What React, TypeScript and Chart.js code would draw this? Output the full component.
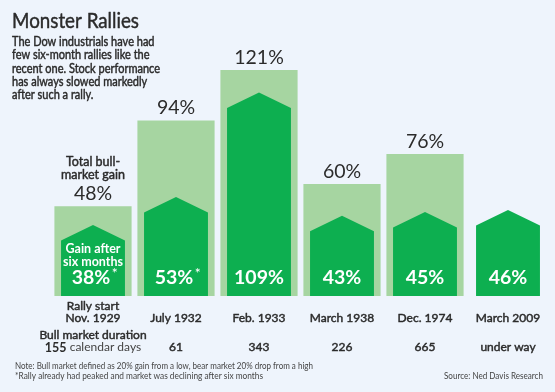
import { useEffect, useRef } from "react";
import { Chart, registerables } from "chart.js";

Chart.register(...registerables);

const rallyStarts = ["Nov. 1929", "July 1932", "Feb. 1933", "March 1938", "Dec. 1974", "March 2009"];
const totalGain: (number | null)[] = [48, 94, 121, 60, 76, null];
const sixMonthGain = [38, 53, 109, 43, 45, 46];
const durations = ["155", "61", "343", "226", "665", "under way"];
const peakedEarly = [true, true, false, false, false, false];

const titleText = "Monster Rallies";
const subtitleLines = [
  "The Dow industrials have had",
  "few six-month rallies like the",
  "recent one. Stock performance",
  "has always slowed markedly",
  "after such a rally.",
];
const noteLines = [
  "Note: Bull market defined as 20% gain from a low, bear market 20% drop from a high",
  "*Rally already had peaked and market was declining after six months",
];
const sourceText = "Source: Ned Davis Research";

const BG = "#eef4fc";
const LIGHT = "#a6d5a1";
const DARK = "#0daf50";
const TEXT = "#2b2b2b";
const FONT = "Lato, 'Open Sans', sans-serif";

// medium-weight text: fill plus a hairline stroke of the same colour
function medium(ctx: CanvasRenderingContext2D, s: string, x: number, y: number, maxW?: number) {
  ctx.save();
  ctx.strokeStyle = ctx.fillStyle as string;
  ctx.lineWidth = 0.45;
  ctx.lineJoin = "round";
  if (maxW !== undefined) {
    ctx.fillText(s, x, y, maxW);
    ctx.strokeText(s, x, y, maxW);
  } else {
    ctx.fillText(s, x, y);
    ctx.strokeText(s, x, y);
  }
  ctx.restore();
}

const overlay = {
  id: "overlay",
  beforeDraw(chart: any) {
    const ctx = chart.ctx;
    ctx.save();
    ctx.fillStyle = BG;
    ctx.fillRect(0, 0, chart.width, chart.height);
    ctx.restore();
  },
  afterDatasetsDraw(chart: any) {
    const ctx: CanvasRenderingContext2D = chart.ctx;
    const lightMeta = chart.getDatasetMeta(0);
    const darkMeta = chart.getDatasetMeta(1);
    const xs = chart.scales.x;
    ctx.save();

    // pentagon bars
    darkMeta.data.forEach((bar: any) => {
      const { x, y, base, width } = bar.getProps(["x", "y", "base", "width"], true);
      const l = x - width / 2;
      const r = x + width / 2;
      const sh = y + 15.5;
      ctx.beginPath();
      ctx.moveTo(l, base);
      ctx.lineTo(l, sh);
      ctx.lineTo(x, y);
      ctx.lineTo(r, sh);
      ctx.lineTo(r, base);
      ctx.closePath();
      ctx.fillStyle = DARK;
      ctx.fill();
    });

    ctx.textAlign = "center";
    ctx.textBaseline = "middle";

    // light bar labels
    lightMeta.data.forEach((bar: any, i: number) => {
      const v = totalGain[i];
      if (v == null) return;
      const { x, y } = bar.getProps(["x", "y"], true);
      ctx.fillStyle = TEXT;
      ctx.font = `400 19.5px ${FONT}`;
      ctx.fillText(`${v}%`, x, y - 12.5);
      if (i === 0) {
        ctx.font = `400 12.5px ${FONT}`;
        medium(ctx, "Total bull-", x, y - 44);
        medium(ctx, "market gain", x, y - 31);
      }
    });

    // dark bar labels
    darkMeta.data.forEach((bar: any, i: number) => {
      const { x, base } = bar.getProps(["x", "base"], true);
      const label = `${sixMonthGain[i]}%`;
      ctx.font = `700 19.5px ${FONT}`;
      ctx.fillStyle = "#ffffff";
      const w = ctx.measureText(label).width;
      const cx = peakedEarly[i] ? x - 2 : x;
      ctx.textAlign = "center";
      ctx.fillText(label, cx, base - 18.5);
      if (peakedEarly[i]) {
        ctx.font = `400 14px ${FONT}`;
        ctx.textAlign = "left";
        ctx.fillText("*", cx + w / 2 + 1.5, base - 23);
        ctx.textAlign = "center";
      }
      if (i === 0) {
        ctx.font = `700 12.5px ${FONT}`;
        ctx.fillText("Gain after", x, base - 47.5);
        ctx.fillText("six months", x, base - 34.5);
      }
    });

    // category labels below
    rallyStarts.forEach((lab, i) => {
      const x = xs.getPixelForValue(i);
      ctx.fillStyle = TEXT;
      ctx.textAlign = "center";
      ctx.font = `400 12px ${FONT}`;
      if (i === 0) medium(ctx, "Rally start", x, 306);
      medium(ctx, lab, x, 318.5);
      if (i === 0) {
        medium(ctx, "Bull market duration", x, 335);
        ctx.font = `700 12.5px ${FONT}`;
        const a = durations[i];
        const b = " calendar days";
        const wa = ctx.measureText(a).width;
        ctx.font = `400 12px ${FONT}`;
        const wb = ctx.measureText(b).width;
        const start = x - (wa + wb) / 2;
        ctx.textAlign = "left";
        ctx.font = `700 12.5px ${FONT}`;
        ctx.fillText(a, start, 347.5);
        ctx.font = `400 12px ${FONT}`;
        ctx.fillStyle = "#444";
        ctx.fillText(b, start + wa, 347.5);
        ctx.textAlign = "center";
      } else {
        ctx.font = `400 12px ${FONT}`;
        medium(ctx, durations[i], x, 347.5);
      }
    });

    // title and subtitle
    ctx.textAlign = "left";
    ctx.textBaseline = "alphabetic";
    ctx.fillStyle = TEXT;
    ctx.font = `400 22px ${FONT}`;
    medium(ctx, titleText, 12, 27.5, 127);
    ctx.font = `400 12.5px ${FONT}`;
    subtitleLines.forEach((ln, k) => {
      const w = ctx.measureText(ln).width;
      medium(ctx, ln, 12, 46 + k * 13.3, w * 0.88);
    });

    // notes
    ctx.font = `400 10px ${FONT}`;
    ctx.fillStyle = "#444";
    ctx.fillText(noteLines[0], 15, 369, 298);
    ctx.fillText(noteLines[1], 15, 379, 248);
    ctx.textAlign = "right";
    ctx.fillText(sourceText, 543, 379, 99);

    ctx.restore();
  },
};

export default function App() {
  const ref = useRef<HTMLCanvasElement | null>(null);
  useEffect(() => {
    if (!ref.current) return;
    const chart = new Chart(ref.current, {
      type: "bar",
      data: {
        labels: rallyStarts,
        datasets: [
          {
            label: "Total bull-market gain",
            data: totalGain,
            backgroundColor: LIGHT,
            barPercentage: 0.93,
            categoryPercentage: 1,
            grouped: false,
          } as any,
          {
            label: "Gain after six months",
            data: sixMonthGain,
            backgroundColor: "rgba(0,0,0,0)",
            barPercentage: 0.77,
            categoryPercentage: 1,
            grouped: false,
          } as any,
        ],
      },
      options: {
        responsive: false,
        animation: false,
        devicePixelRatio: 1,
        layout: { padding: { left: 51.5, right: 5.5, top: 34.5, bottom: 96 } },
        scales: {
          x: { display: false, offset: true },
          y: { display: false, min: 0, max: 140 },
        },
        plugins: { legend: { display: false }, tooltip: { enabled: false } },
      },
      plugins: [overlay],
    });
    return () => chart.destroy();
  }, []);
  return (
    <div style={{ position: "absolute", left: 0, top: 0, width: 555, height: 392 }}>
      <canvas ref={ref} width={555} height={392} />
    </div>
  );
}
